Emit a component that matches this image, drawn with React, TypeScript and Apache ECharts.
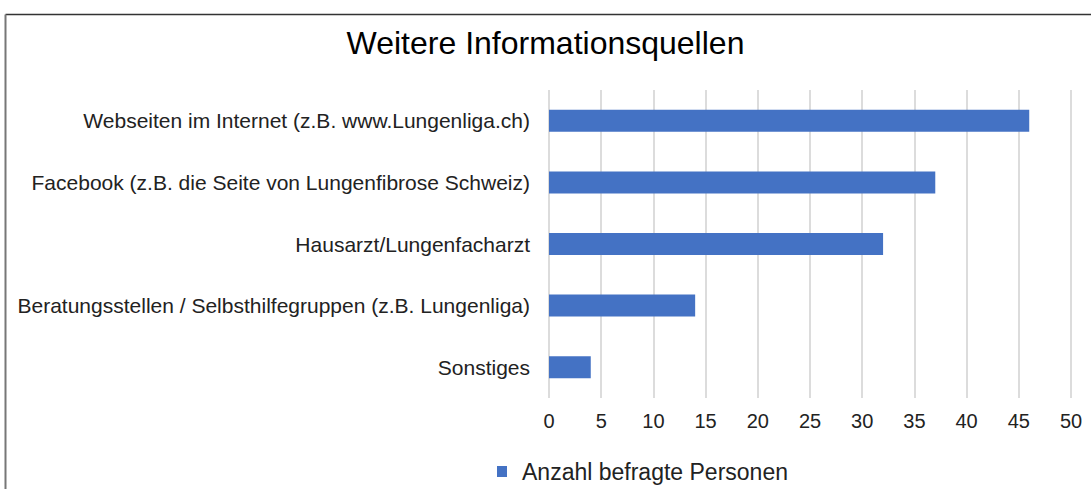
import React, { useEffect, useRef } from "react";
import * as echarts from "echarts";

const title = "Weitere Informationsquellen";
const seriesName = "Anzahl befragte Personen";
const categories = [
  "Webseiten im Internet (z.B. www.Lungenliga.ch)",
  "Facebook (z.B. die Seite von Lungenfibrose Schweiz)",
  "Hausarzt/Lungenfacharzt",
  "Beratungsstellen / Selbsthilfegruppen (z.B. Lungenliga)",
  "Sonstiges",
];
const values = [46, 37, 32, 14, 4];

const FONT = "'Liberation Sans', Arial, sans-serif";

export default function App() {
  const ref = useRef<HTMLDivElement>(null);
  useEffect(() => {
    document.body.style.margin = "0";
    const chart = echarts.init(ref.current!, null, { renderer: "svg" });
    chart.setOption({
      animation: false,
      backgroundColor: "#fff",
      title: {
        text: title,
        left: "center",
        top: 22,
        textStyle: { fontFamily: FONT, fontSize: 32, fontWeight: "normal", color: "#000" },
      },
      grid: { left: 549, right: 20, top: 90, bottom: 91, containLabel: false },
      xAxis: {
        type: "value",
        min: 0,
        max: 50,
        interval: 5,
        axisLine: { show: false },
        axisTick: { show: false },
        splitLine: { show: true, lineStyle: { color: "#d9d9d9", width: 1.8 } },
        axisLabel: { fontFamily: FONT, fontSize: 20, color: "#222", margin: 13 },
      },
      yAxis: {
        type: "category",
        data: categories,
        inverse: true,
        axisLine: { show: false },
        axisTick: { show: false },
        axisLabel: { fontFamily: FONT, fontSize: 21, color: "#222", margin: 19 },
      },
      legend: {
        left: 492,
        top: 455,
        icon: "rect",
        itemWidth: 10,
        itemHeight: 11,
        textStyle: { fontFamily: FONT, fontSize: 23, color: "#222", padding: [0, 0, 0, 10] },
        data: [seriesName],
      },
      series: [
        {
          name: seriesName,
          type: "bar",
          data: values,
          barWidth: 22,
          itemStyle: { color: "#4472c4" },
        },
      ],
      graphic: [
        { type: "line", shape: { x1: 5.5, y1: 14.5, x2: 1091, y2: 14.5 }, style: { stroke: "#333", lineWidth: 1.5 } },
        { type: "line", shape: { x1: 5.5, y1: 14.5, x2: 5.5, y2: 489 }, style: { stroke: "#777", lineWidth: 2 } },
      ],
    });
    return () => chart.dispose();
  }, []);
  return <div ref={ref} style={{ width: 1091, height: 489 }} />;
}
